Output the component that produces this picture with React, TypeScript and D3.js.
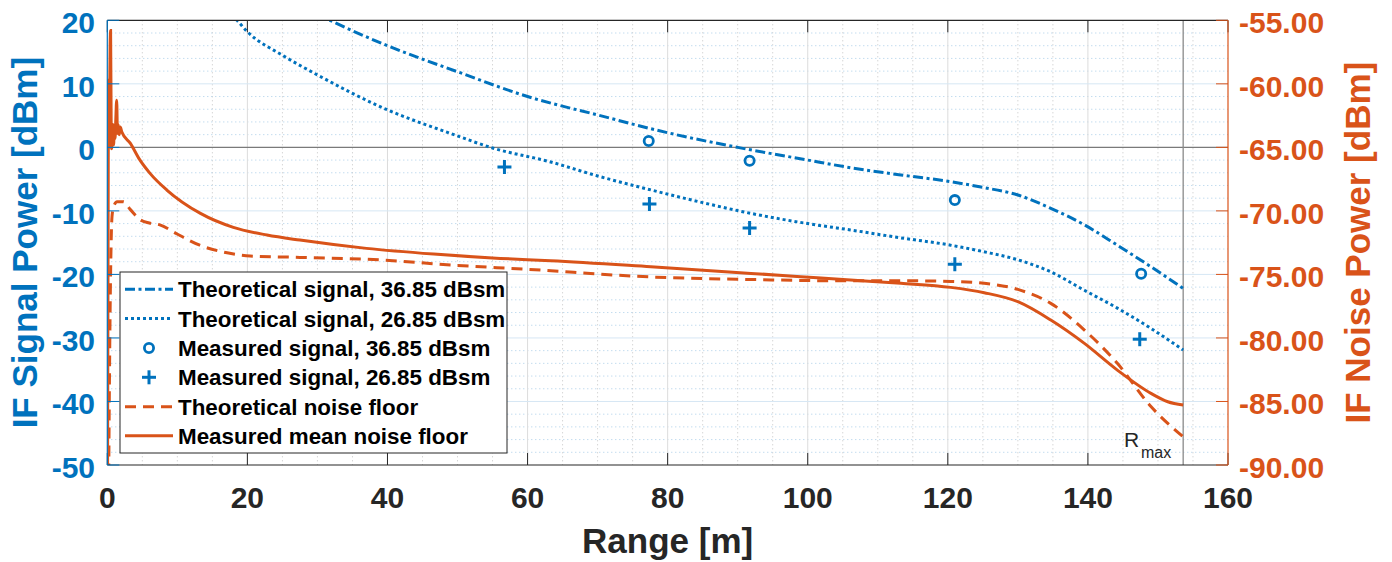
import React from "react";
import * as d3 from "d3";

// ---------- data ----------
const xTicks = [0, 20, 40, 60, 80, 100, 120, 140, 160];
const leftTicks = [20, 10, 0, -10, -20, -30, -40, -50];
const rightTicks = [-55, -60, -65, -70, -75, -80, -85, -90];

const theo36X = [25, 31.8, 40, 50, 60, 70, 80, 90, 100, 106.1, 113, 120.4, 125, 130, 134.7, 139.5, 144.2, 149, 153.6];
const theo36Y = [24, 20, 16, 11.9, 8, 5.1, 2.3, 0, -2.0, -3.2, -4.3, -5.4, -6.3, -7.5, -9.6, -12.2, -15.4, -18.8, -22.2];

const theo26X = [15, 18.5, 20, 25, 30, 40, 49, 55, 63.3, 70, 77.6, 85, 91.9, 100, 106.1, 113, 120.4, 125, 130, 134.7, 139.5, 144.2, 149, 153.6];
const theo26Y = [23, 20, 18.2, 14.5, 11.4, 5.9, 2.2, -0.1, -2.3, -4.5, -6.7, -8.7, -10.4, -12.0, -13.0, -14.2, -15.4, -16.4, -17.7, -19.6, -22.5, -25.3, -28.5, -31.9];

const meas36X = [77.3, 91.7, 121, 147.6];
const meas36Y = [1.0, -2.1, -8.3, -19.9];

const meas26X = [56.7, 77.4, 91.7, 121, 147.4];
const meas26Y = [-3.1, -8.9, -12.7, -18.4, -30.2];

const noiseTheoX = [0.15, 0.4, 0.67, 0.9, 1.4, 2.3, 3.3, 4.7, 6, 7.5, 9.9, 13.2, 17.1, 20.4, 27.5, 39.4, 49, 60, 77.6, 91.9, 103.8, 113.3, 120.4, 125.2, 130, 134.7, 139.5, 144.2, 149, 153.6];
const noiseTheoY = [-95, -78, -70.46, -69.67, -69.28, -69.28, -69.9, -70.7, -70.95, -71.1, -71.8, -72.7, -73.3, -73.55, -73.66, -73.87, -74.26, -74.6, -75.2, -75.4, -75.5, -75.5, -75.55, -75.7, -76.18, -77.28, -79.38, -82.0, -85.4, -87.78];

const noiseMeasX = [0.02, 0.1, 0.18, 0.25, 0.32, 0.4, 0.47, 0.55, 0.62, 0.7, 0.8, 0.9, 1.0, 1.1, 1.2, 1.34, 1.45, 1.55, 1.7, 1.85, 2.06, 3.3, 4.6, 6.1, 8.5, 13.3, 18, 22.8, 27.5, 37, 46.6, 56.1, 63.3, 77.6, 91.9, 99, 106.1, 113.3, 120.4, 125.2, 130, 134.7, 139.5, 144.2, 149, 151.4, 153.6];
const noiseMeasY = [-95, -75, -59.7, -65, -62, -57, -55.8, -63, -65.1, -64, -63.2, -64.8, -63.5, -64.3, -63.0, -61.3, -63.9, -63.2, -64, -63.4, -63.77, -64.69, -65.95, -67.05, -68.36, -70.2, -71.3, -71.9, -72.3, -72.95, -73.4, -73.74, -73.92, -74.4, -74.92, -75.18, -75.44, -75.7, -76.02, -76.44, -77.15, -78.59, -80.43, -82.53, -84.36, -85.02, -85.28];

const rMax = 153.6;

const legendLabels = [
  "Theoretical signal, 36.85 dBsm",
  "Theoretical signal, 26.85 dBsm",
  "Measured signal, 36.85 dBsm",
  "Measured signal, 26.85 dBsm",
  "Theoretical noise floor",
  "Measured mean noise floor",
];

// ---------- style ----------
const BLUE = "#0072BD";
const ORANGE = "#D95319";
const DARK = "#262626";
const FONT = "'Liberation Sans', Arial, Helvetica, sans-serif";

const W = 1392, H = 562;
const X0 = 107.3, X1 = 1228, Y0 = 20.3, Y1 = 465;

export default function App() {
  const x = d3.scaleLinear().domain([0, 160]).range([X0, X1]);
  const yL = d3.scaleLinear().domain([-50, 20]).range([Y1, Y0]);
  const yR = d3.scaleLinear().domain([-90, -55]).range([Y1, Y0]);

  const lineL = d3.line<[number, number]>().x(d => x(d[0])).y(d => yL(d[1])).curve(d3.curveMonotoneX);
  const lineR = d3.line<[number, number]>().x(d => x(d[0])).y(d => yR(d[1])).curve(d3.curveMonotoneX);
  const zip = (a: number[], b: number[]) => a.map((v, i) => [v, b[i]] as [number, number]);

  const minorX = d3.range(5, 160, 5).filter(v => v % 20 !== 0);
  const majorX = [20, 40, 60, 80, 100, 120, 140];
  const minorY = d3.range(-48, 20, 2).filter(v => v % 10 !== 0);
  const majorY = [10, -10, -20, -30, -40];

  const dashDot = "10 3.5 3 3.5";
  const dotted = "3 3";
  const dashed = "11 7";

  const lgX = 120, lgY = 272, lgW = 387, lgH = 181;
  const rows = [289.3, 318.5, 348, 377.3, 406.7, 435.7];

  const plus = (cx: number, cy: number, key: string) => (
    <g key={key} stroke={BLUE} strokeWidth={3}>
      <line x1={cx - 7} x2={cx + 7} y1={cy} y2={cy} />
      <line x1={cx} x2={cx} y1={cy - 7} y2={cy + 7} />
    </g>
  );

  return (
    <svg width={W} height={H} style={{ position: "absolute", left: 0, top: 0, background: "#fff" }} fontFamily={FONT}>
      <defs>
        <clipPath id="plotClip">
          <rect x={X0} y={Y0} width={X1 - X0} height={Y1 - Y0} />
        </clipPath>
      </defs>
      <rect x={0} y={0} width={W} height={H} fill="#fff" />

      {/* grid */}
      <g>
        {minorX.map(v => (
          <line key={"mx" + v} x1={x(v)} x2={x(v)} y1={Y0} y2={Y1} stroke="#c4c4c4" strokeDasharray="1 3" />
        ))}
        {minorY.map(v => (
          <line key={"my" + v} x1={X0} x2={X1} y1={yL(v)} y2={yL(v)} stroke="#a9cde8" strokeDasharray="1 3" />
        ))}
        {majorX.map(v => (
          <line key={"Mx" + v} x1={x(v)} x2={x(v)} y1={Y0} y2={Y1} stroke="#dcdcdc" />
        ))}
        {majorY.map(v => (
          <line key={"My" + v} x1={X0} x2={X1} y1={yL(v)} y2={yL(v)} stroke="#d6e7f4" />
        ))}
        <line x1={X0} x2={X1} y1={yL(0)} y2={yL(0)} stroke="#7a7a7a" strokeWidth={1.3} />
        <line x1={x(rMax)} x2={x(rMax)} y1={Y0} y2={Y1} stroke="#8a8a8a" strokeWidth={1.3} />
      </g>

      {/* data */}
      <g clipPath="url(#plotClip)" fill="none">
        <path d={lineR(zip(noiseTheoX, noiseTheoY)) || ""} stroke={ORANGE} strokeWidth={3} strokeDasharray={dashed} />
        <path d={lineR(zip(noiseMeasX, noiseMeasY)) || ""} stroke={ORANGE} strokeWidth={3} />
        <path d={lineL(zip(theo36X, theo36Y)) || ""} stroke={BLUE} strokeWidth={3} strokeDasharray={dashDot} />
        <path d={lineL(zip(theo26X, theo26Y)) || ""} stroke={BLUE} strokeWidth={3} strokeDasharray={dotted} />
        {meas36X.map((v, i) => (
          <circle key={"c" + i} cx={x(v)} cy={yL(meas36Y[i])} r={4.6} stroke={BLUE} strokeWidth={2.8} fill="none" />
        ))}
        {meas26X.map((v, i) => plus(x(v), yL(meas26Y[i]), "p" + i))}
      </g>

      {/* axes */}
      <g>
        <line x1={X0} x2={X1} y1={Y0} y2={Y0} stroke={DARK} strokeWidth={1.2} />
        <line x1={X0} x2={X1} y1={Y1} y2={Y1} stroke={DARK} strokeWidth={1.2} />
        {xTicks.map(v => (
          <g key={"xt" + v}>
            <line x1={x(v)} x2={x(v)} y1={Y1} y2={Y1 - 12} stroke={DARK} />
            <line x1={x(v)} x2={x(v)} y1={Y0} y2={Y0 + 12} stroke={DARK} />
            <text x={x(v)} y={508} textAnchor="middle" fontSize={30} fontWeight="bold" fill={DARK}>{v}</text>
          </g>
        ))}
        <line x1={X0} x2={X0} y1={Y0} y2={Y1} stroke={BLUE} strokeWidth={1.2} />
        {leftTicks.map(v => (
          <g key={"lt" + v}>
            <line x1={X0} x2={X0 + 12} y1={yL(v)} y2={yL(v)} stroke={BLUE} />
            <text x={95} y={yL(v) + 13} textAnchor="end" fontSize={30} fontWeight="bold" fill={BLUE}>{v}</text>
          </g>
        ))}
        <line x1={X1} x2={X1} y1={Y0} y2={Y1} stroke={ORANGE} strokeWidth={1.2} />
        {rightTicks.map(v => (
          <g key={"rt" + v}>
            <line x1={X1} x2={X1 - 12} y1={yR(v)} y2={yR(v)} stroke={ORANGE} />
            <text x={1239} y={yR(v) + 13} textAnchor="start" fontSize={30} fontWeight="bold" fill={ORANGE}>{v.toFixed(2)}</text>
          </g>
        ))}
      </g>

      {/* Rmax label */}
      <text x={1124} y={447} fontSize={21} fill={DARK}>R</text>
      <text x={1141} y={458} fontSize={16} fill={DARK}>max</text>

      {/* axis labels */}
      <text x={(X0 + X1) / 2} y={553} textAnchor="middle" fontSize={35} fontWeight="bold" fill={DARK}>Range [m]</text>
      <text transform={`translate(37,${(Y0 + Y1) / 2}) rotate(-90)`} textAnchor="middle" fontSize={35} fontWeight="bold" fill={BLUE}>IF Signal Power [dBm]</text>
      <text transform={`translate(1370,${(Y0 + Y1) / 2}) rotate(-90)`} textAnchor="middle" fontSize={35} fontWeight="bold" fill={ORANGE}>IF Noise Power [dBm]</text>

      {/* legend */}
      <g>
        <rect x={lgX} y={lgY} width={lgW} height={lgH} fill="#fff" stroke={DARK} strokeWidth={1} />
        <line x1={125} x2={173} y1={rows[0]} y2={rows[0]} stroke={BLUE} strokeWidth={3} strokeDasharray={dashDot} />
        <line x1={125} x2={173} y1={rows[1]} y2={rows[1]} stroke={BLUE} strokeWidth={3} strokeDasharray={dotted} />
        <circle cx={149} cy={rows[2]} r={4.6} stroke={BLUE} strokeWidth={2.8} fill="none" />
        {plus(149, rows[3], "lp")}
        <line x1={125} x2={173} y1={rows[4]} y2={rows[4]} stroke={ORANGE} strokeWidth={3} strokeDasharray={dashed} />
        <line x1={125} x2={173} y1={rows[5]} y2={rows[5]} stroke={ORANGE} strokeWidth={3} />
        {legendLabels.map((t, i) => (
          <text key={"lg" + i} x={178} y={rows[i] + 8} fontSize={22.4} fontWeight="bold" fill="#000">{t}</text>
        ))}
      </g>
    </svg>
  );
}
